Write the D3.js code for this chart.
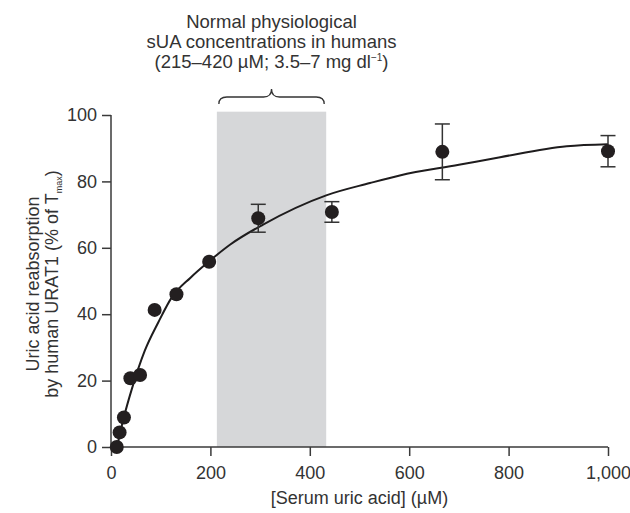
<!DOCTYPE html>
<html>
<head>
<meta charset="utf-8">
<script src="https://cdn.jsdelivr.net/npm/d3@7"></script>
<style>
  body { margin: 0; background: #fff; }
  text { font-family: "Liberation Sans", Arial, sans-serif; fill: #333; }
</style>
</head>
<body>
<div id="chart"></div>
<script>
// serum uric acid (uM) and reabsorption (% of Tmax)
const uricAcid = [11.6, 17.3, 26, 39, 58.5, 87.8, 131.7, 197.5, 296.3, 444.4, 666.7, 1000]
const reabsorption = [0, 4.4, 8.9, 20.7, 21.7, 41.3, 46, 55.8, 68.9, 70.8, 88.9, 89.1]
const errorSize = [0, 0, 0, 0, 0, 0, 0, 0, 4.2, 3.1, 8.4, 4.7]

// fitted curve
const fitX = [12, 26, 42, 68, 95, 122, 160, 198, 240, 306, 433, 521, 581, 700, 783, 917, 1000]
const fitY = [0, 9, 17.5, 29, 37.5, 45, 51, 56, 61, 67, 75.8, 79.5, 81.8, 85, 87.3, 90.6, 91.2]

// normal physiological range (shaded band)
const bandRange = [213, 433]
const bandTop = 101

const xTicks = [0, 200, 400, 600, 800, 1000]
const yTicks = [0, 20, 40, 60, 80, 100]

const width = 630, height = 513
const margin = {top: 115, right: 22, bottom: 66, left: 111}
const fontSize = "18px"

const svg = d3.select("#chart").append("svg")
    .attr("width", width)
    .attr("height", height)

const x = d3.scaleLinear()
    .domain([0, 1000])
    .range([margin.left, width - margin.right])

const y = d3.scaleLinear()
    .domain([0, 100])
    .range([height - margin.bottom, margin.top])

// shaded band
svg.append("rect")
    .attr("x", x(bandRange[0]))
    .attr("y", y(bandTop))
    .attr("width", x(bandRange[1]) - x(bandRange[0]))
    .attr("height", y(0) - y(bandTop))
    .attr("fill", "#d6d7d9")

// brace over the band
const bx0 = x(bandRange[0]) + 2, bx1 = x(bandRange[1]) - 2, bm = (bx0 + bx1) / 2
svg.append("path")
    .attr("d", `M${bx0},104 Q${bx0},97 ${bx0 + 8},97 L${bm - 8},97 Q${bm},97 ${bm},89
                Q${bm},97 ${bm + 8},97 L${bx1 - 8},97 Q${bx1},97 ${bx1},104`)
    .attr("fill", "none")
    .attr("stroke", "#333")
    .attr("stroke-width", 1.3)

// title over the brace
const title = svg.append("text")
    .attr("text-anchor", "middle")
    .style("font-size", "18.5px")
title.append("tspan").attr("x", bm).attr("y", 28).text("Normal physiological")
title.append("tspan").attr("x", bm).attr("y", 48).text("sUA concentrations in humans")
const t3 = title.append("tspan").attr("x", bm).attr("y", 68)
t3.append("tspan").text("(215\u2013420 \u00b5M; 3.5\u20137 mg dl")
t3.append("tspan").attr("dy", -7).style("font-size", "10px").text("\u22121")
t3.append("tspan").attr("dy", 7).text(")")

// axes
const xAxis = d3.axisBottom(x)
    .tickValues(xTicks)
    .tickSize(9)
    .tickPadding(10)
    .tickFormat(d3.format(","))

const yAxis = d3.axisLeft(y)
    .tickValues(yTicks)
    .tickSize(9)
    .tickPadding(5)

const xGroup = svg.append("g")
    .attr("transform", `translate(0,${y(0)})`)
    .call(xAxis)
const yGroup = svg.append("g")
    .attr("transform", `translate(${x(0)},0)`)
    .call(yAxis)

for (const g of [xGroup, yGroup]) {
  g.select(".domain").attr("stroke", "#3a3a3a").attr("stroke-width", 1.5)
  g.selectAll(".tick line").attr("stroke", "#3a3a3a").attr("stroke-width", 1.5)
  g.selectAll(".tick text")
      .attr("fill", "#333")
      .style("font-family", "Liberation Sans, Arial, sans-serif")
      .style("font-size", fontSize)
}
// flat domain ends, no outer ticks
xGroup.select(".domain").attr("d", `M${x(0)},0H${x(1000)}`)
yGroup.select(".domain").attr("d", `M0,${y(100)}V${y(0)}`)

// axis titles
svg.append("text")
    .attr("x", (x(0) + x(1000)) / 2)
    .attr("y", 504)
    .attr("text-anchor", "middle")
    .style("font-size", fontSize)
    .text("[Serum uric acid] (\u00b5M)")

const yMid = (y(0) + y(100)) / 2 + 3
svg.append("text")
    .attr("transform", `translate(39,${yMid}) rotate(-90)`)
    .attr("text-anchor", "middle")
    .style("font-size", fontSize)
    .text("Uric acid reabsorption")

const yl2 = svg.append("text")
    .attr("transform", `translate(58,${yMid}) rotate(-90)`)
    .attr("text-anchor", "middle")
    .style("font-size", fontSize)
yl2.append("tspan").text("by human URAT1 (% of T")
yl2.append("tspan").attr("dy", 4).style("font-size", "9px").text("max")
yl2.append("tspan").attr("dy", -4).text(")")

// fitted curve
const fitData = fitX.map((d, i) => [d, fitY[i]])
svg.append("path")
    .datum(fitData)
    .attr("fill", "none")
    .attr("stroke", "#1e1c1d")
    .attr("stroke-width", 2)
    .attr("d", d3.line()
        .x(d => x(d[0]))
        .y(d => y(d[1]))
        .curve(d3.curveMonotoneX))

const points = uricAcid.map((d, i) => ({sua: d, val: reabsorption[i], err: errorSize[i]}))

// error bars
const bars = svg.selectAll(".err")
    .data(points.filter(d => d.err > 0))
    .join("g")
      .attr("class", "err")
      .attr("stroke", "#333")
      .attr("stroke-width", 1.5)
bars.append("line")
    .attr("x1", d => x(d.sua)).attr("x2", d => x(d.sua))
    .attr("y1", d => y(d.val + d.err)).attr("y2", d => y(d.val - d.err))
bars.append("line")
    .attr("x1", d => x(d.sua) - 7.5).attr("x2", d => x(d.sua) + 7.5)
    .attr("y1", d => y(d.val + d.err)).attr("y2", d => y(d.val + d.err))
bars.append("line")
    .attr("x1", d => x(d.sua) - 7.5).attr("x2", d => x(d.sua) + 7.5)
    .attr("y1", d => y(d.val - d.err)).attr("y2", d => y(d.val - d.err))

// data points
svg.selectAll(".pt")
    .data(points)
    .join("circle")
      .attr("class", "pt")
      .attr("cx", d => x(d.sua))
      .attr("cy", d => y(d.val))
      .attr("r", 7)
      .attr("fill", "#231f20")
</script>
</body>
</html>
